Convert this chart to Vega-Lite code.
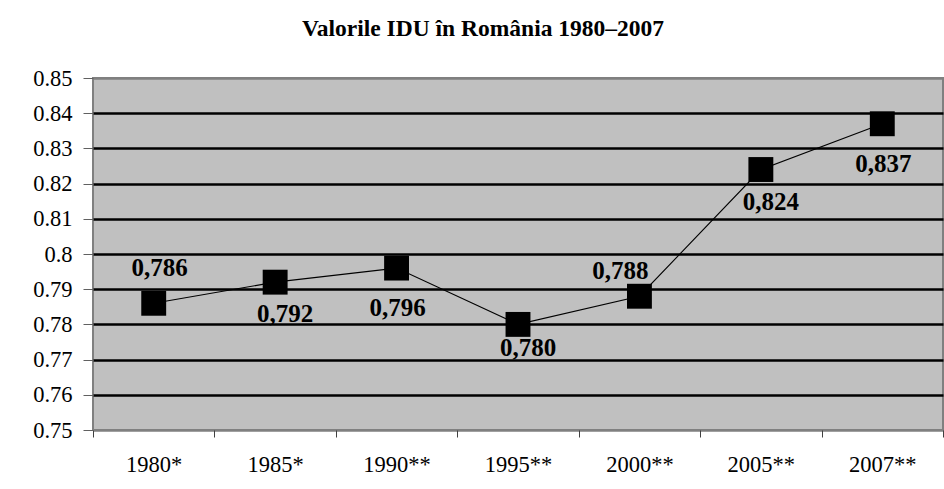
{
  "$schema": "https://vega.github.io/schema/vega-lite/v6.json",
  "width": 850,
  "height": 352,
  "autosize": {"type": "none"},
  "padding": {"left": 93, "top": 78, "right": 1, "bottom": 59},
  "background": "white",
  "title": {
    "text": "Valorile IDU în România 1980–2007",
    "font": "Liberation Serif",
    "fontSize": 23.5,
    "fontWeight": "bold",
    "color": "black",
    "anchor": "middle",
    "dx": -35,
    "offset": 27
  },
  "config": {
    "view": {"fill": "#C0C0C0", "stroke": "#808080", "strokeWidth": 2}
  },
  "data": {
    "values": [
      {"year": "1980*", "idu": 0.786, "label": "0,786"},
      {"year": "1985*", "idu": 0.792, "label": "0,792"},
      {"year": "1990**", "idu": 0.796, "label": "0,796"},
      {"year": "1995**", "idu": 0.780, "label": "0,780"},
      {"year": "2000**", "idu": 0.788, "label": "0,788"},
      {"year": "2005**", "idu": 0.824, "label": "0,824"},
      {"year": "2007**", "idu": 0.837, "label": "0,837"}
    ]
  },
  "encoding": {
    "x": {
      "field": "year",
      "type": "nominal",
      "sort": null,
      "scale": {"paddingInner": 0, "paddingOuter": 0},
      "axis": {
        "title": null,
        "labelAngle": 0,
        "tickBand": "extent",
        "labelFont": "Liberation Serif",
        "labelFontSize": 22.5,
        "labelColor": "black",
        "labelPadding": 16,
        "tickSize": 7,
        "tickColor": "#404040",
        "domain": false,
        "grid": false
      }
    },
    "y": {
      "field": "idu",
      "type": "quantitative",
      "scale": {"domain": [0.75, 0.85], "nice": false, "zero": false},
      "axis": {
        "title": null,
        "values": [0.75, 0.76, 0.77, 0.78, 0.79, 0.8, 0.81, 0.82, 0.83, 0.84, 0.85],
        "format": ".2~f",
        "labelOverlap": false,
        "labelFont": "Liberation Serif",
        "labelFontSize": 22.5,
        "labelColor": "black",
        "labelPadding": 11,
        "tickSize": 10,
        "tickColor": "#606060",
        "domain": false,
        "grid": true,
        "gridColor": {"condition": {"test": "datum.value >= 0.845 || datum.value <= 0.755", "value": "#808080"}, "value": "black"},
        "gridWidth": 2.5,
        "gridOpacity": 1
      }
    }
  },
  "layer": [
    {"mark": {"type": "line", "color": "black", "strokeWidth": 1.1}},
    {"mark": {"type": "point", "shape": "square", "filled": true, "color": "black", "opacity": 1, "size": 620}},
    {
      "transform": [{"filter": "datum.year == '1980*'"}],
      "mark": {"type": "text", "font": "Liberation Serif", "fontWeight": "bold", "fontSize": 25, "color": "black", "dx": 6, "dy": -35},
      "encoding": {"text": {"field": "label"}}
    },
    {
      "transform": [{"filter": "datum.year == '2000**'"}],
      "mark": {"type": "text", "font": "Liberation Serif", "fontWeight": "bold", "fontSize": 25, "color": "black", "dx": -19, "dy": -25},
      "encoding": {"text": {"field": "label"}}
    },
    {
      "transform": [{"filter": "datum.year == '1995**'"}],
      "mark": {"type": "text", "font": "Liberation Serif", "fontWeight": "bold", "fontSize": 25, "color": "black", "dx": 10, "dy": 24},
      "encoding": {"text": {"field": "label"}}
    },
    {
      "transform": [{"filter": "datum.year == '1985*' || datum.year == '2005**'"}],
      "mark": {"type": "text", "font": "Liberation Serif", "fontWeight": "bold", "fontSize": 25, "color": "black", "dx": 10, "dy": 32},
      "encoding": {"text": {"field": "label"}}
    },
    {
      "transform": [{"filter": "datum.year == '1990**' || datum.year == '2007**'"}],
      "mark": {"type": "text", "font": "Liberation Serif", "fontWeight": "bold", "fontSize": 25, "color": "black", "dx": 1, "dy": 40},
      "encoding": {"text": {"field": "label"}}
    }
  ]
}
